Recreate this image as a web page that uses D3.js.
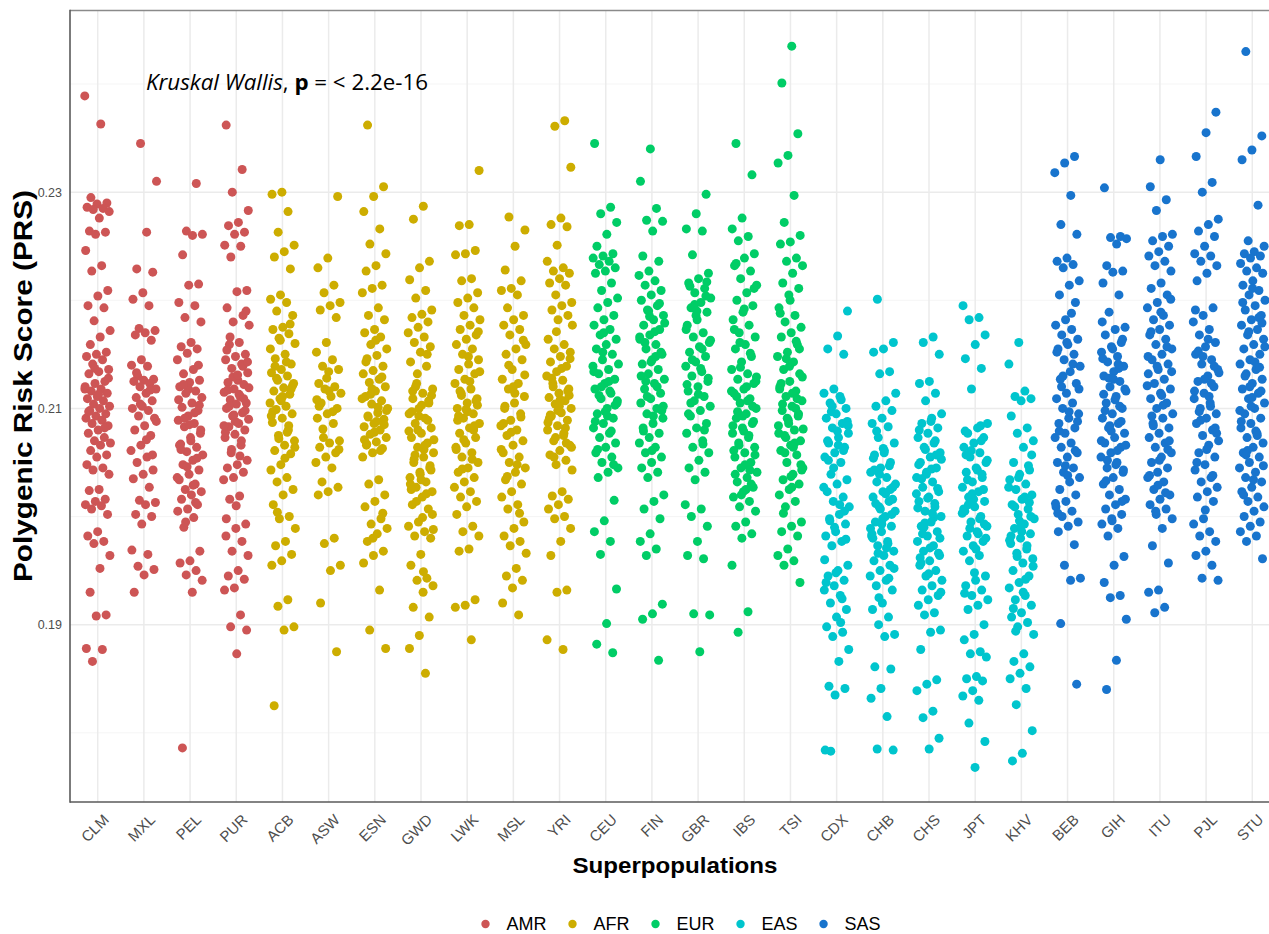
<!DOCTYPE html>
<html>
<head>
<meta charset="utf-8">
<script src="https://cdn.jsdelivr.net/npm/d3@7"></script>
<style>
  body { margin: 0; background: #fff; }
  svg { display: block; }
</style>
</head>
<body>
<div id="container"></div>
<script>
/* CONSTANTS AND GLOBALS */
const width = 1269;
const height = 934;
const panel = { left: 70, right: 1280, top: 10.5, bottom: 802 };
const FONT = "'Liberation Sans', Arial, sans-serif";

/* DATA */
const populations = ["CLM","MXL","PEL","PUR","ACB","ASW","ESN","GWD","LWK","MSL","YRI","CEU","FIN","GBR","IBS","TSI","CDX","CHB","CHS","JPT","KHV","BEB","GIH","ITU","PJL","STU"];
const superpopOf = ["AMR","AMR","AMR","AMR","AFR","AFR","AFR","AFR","AFR","AFR","AFR","EUR","EUR","EUR","EUR","EUR","EAS","EAS","EAS","EAS","EAS","SAS","SAS","SAS","SAS","SAS"];
const superpops = ["AMR","AFR","EUR","EAS","SAS"];
const superColors = ["#CD5555","#CDAD00","#00CD66","#00C5CD","#1874CD"];
const yTickValues = [0.19, 0.21, 0.23];
const yMinorValues = [0.18, 0.20, 0.22, 0.24];

const prsCLM = [0.2389,0.2363,0.2295,0.2290,0.2289,0.2286,0.2285,0.2284,0.2282,0.2276,0.2264,0.2263,0.2261,0.2246,0.2232,0.2227,0.2209,0.2204,0.2195,0.2193,0.2181,0.2172,0.2166,0.2159,0.2152,0.2150,0.2148,0.2145,0.2141,0.2136,0.2134,0.2132,0.2125,0.2123,0.2120,0.2118,0.2116,0.2114,0.2111,0.2109,0.2107,0.2104,0.2102,0.2100,0.2098,0.2095,0.2093,0.2091,0.2089,0.2086,0.2084,0.2080,0.2077,0.2073,0.2070,0.2068,0.2066,0.2061,0.2057,0.2055,0.2048,0.2045,0.2043,0.2039,0.2025,0.2024,0.2016,0.2014,0.2011,0.2010,0.2007,0.2002,0.1986,0.1982,0.1977,0.1975,0.1964,0.1952,0.1930,0.1909,0.1908,0.1878,0.1877,0.1866,0.2128,0.2113,0.2097,0.2082,0.2137,0.2118];
const prsMXL = [0.2345,0.2310,0.2263,0.2229,0.2226,0.2207,0.2201,0.2195,0.2174,0.2172,0.2170,0.2168,0.2163,0.2145,0.2140,0.2139,0.2130,0.2127,0.2126,0.2125,0.2123,0.2120,0.2118,0.2114,0.2110,0.2107,0.2102,0.2100,0.2098,0.2093,0.2091,0.2084,0.2080,0.2075,0.2066,0.2061,0.2055,0.2050,0.2043,0.2039,0.2035,0.2027,0.2015,0.2013,0.2011,0.2002,0.2000,0.1993,0.1969,0.1965,0.1954,0.1951,0.1946,0.1930,0.2117,0.2104,0.2088,0.2071,0.2133,0.2057];
const prsPEL = [0.2308,0.2264,0.2261,0.2260,0.2242,0.2215,0.2214,0.2198,0.2195,0.2184,0.2180,0.2161,0.2157,0.2155,0.2151,0.2145,0.2136,0.2132,0.2126,0.2124,0.2120,0.2116,0.2114,0.2110,0.2105,0.2101,0.2098,0.2093,0.2089,0.2086,0.2083,0.2077,0.2073,0.2067,0.2064,0.2060,0.2057,0.2052,0.2048,0.2043,0.2039,0.2034,0.2030,0.2025,0.2023,0.2020,0.2016,0.2011,0.2007,0.2005,0.1999,0.1990,0.1968,0.1959,0.1957,0.1950,0.1946,0.1941,0.1930,0.1786,0.2140,0.2118,0.2108,0.2096,0.2091,0.2080,0.2070,0.2062,0.2054,0.2046,0.2036,0.2029,0.2122,0.2103,0.2085,0.2066,0.2013,0.1995];
const prsPUR = [0.2362,0.2321,0.2300,0.2283,0.2272,0.2269,0.2263,0.2261,0.2251,0.2250,0.2240,0.2209,0.2208,0.2193,0.2186,0.2180,0.2177,0.2161,0.2159,0.2150,0.2148,0.2145,0.2141,0.2137,0.2133,0.2126,0.2124,0.2122,0.2118,0.2115,0.2111,0.2108,0.2105,0.2104,0.2100,0.2096,0.2093,0.2090,0.2086,0.2083,0.2080,0.2076,0.2073,0.2066,0.2059,0.2052,0.2048,0.2045,0.2041,0.2036,0.2034,0.2019,0.2016,0.1993,0.1989,0.1982,0.1977,0.1968,0.1964,0.1950,0.1945,0.1942,0.1934,0.1932,0.1909,0.1898,0.1895,0.1873,0.2154,0.2139,0.2129,0.2119,0.2113,0.2102,0.2098,0.2088,0.2078,0.2070,0.2062,0.2143,0.2131,0.2117,0.2109,0.2094,0.2084,0.2056,0.2166,0.2190,0.2010,0.1998];
const prsACB = [0.2300,0.2298,0.2282,0.2263,0.2251,0.2245,0.2240,0.2229,0.2205,0.2201,0.2198,0.2190,0.2186,0.2175,0.2173,0.2169,0.2165,0.2160,0.2150,0.2146,0.2141,0.2136,0.2133,0.2130,0.2126,0.2123,0.2119,0.2116,0.2113,0.2109,0.2105,0.2102,0.2099,0.2095,0.2091,0.2087,0.2080,0.2075,0.2070,0.2066,0.2061,0.2058,0.2048,0.2043,0.2036,0.2032,0.2025,0.2020,0.2011,0.2000,0.1998,0.1989,0.1977,0.1973,0.1965,0.1959,0.1955,0.1923,0.1917,0.1898,0.1895,0.1825,0.2178,0.2163,0.2155,0.2143,0.2128,0.2121,0.2111,0.2097,0.2084,0.2072,0.2064,0.2054,0.2139,0.2118,0.2107,0.2093,0.2078,0.2004];
const prsASW = [0.2296,0.2239,0.2230,0.2214,0.2207,0.2198,0.2195,0.2191,0.2184,0.2161,0.2152,0.2145,0.2139,0.2136,0.2134,0.2123,0.2120,0.2118,0.2114,0.2111,0.2105,0.2100,0.2095,0.2091,0.2086,0.2073,0.2070,0.2068,0.2064,0.2059,0.2055,0.2050,0.2045,0.2032,0.2027,0.2023,0.2020,0.1980,0.1975,0.1955,0.1950,0.1920,0.1875,0.2128,0.2108,0.2097,0.2081,0.2062,0.2116,0.2102];
const prsESN = [0.2362,0.2305,0.2296,0.2282,0.2266,0.2252,0.2243,0.2232,0.2227,0.2214,0.2211,0.2207,0.2193,0.2186,0.2182,0.2173,0.2170,0.2166,0.2159,0.2155,0.2149,0.2146,0.2139,0.2135,0.2132,0.2127,0.2124,0.2120,0.2116,0.2111,0.2107,0.2104,0.2100,0.2096,0.2093,0.2090,0.2086,0.2083,0.2080,0.2076,0.2073,0.2069,0.2066,0.2063,0.2059,0.2055,0.2034,0.2030,0.2020,0.2014,0.2009,0.1998,0.1993,0.1989,0.1984,0.1977,0.1968,0.1964,0.1957,0.1932,0.1895,0.1878,0.2163,0.2143,0.2129,0.2118,0.2109,0.2101,0.2092,0.2085,0.2078,0.2071,0.2061,0.2113,0.2098,0.2088,0.2067,0.2003,0.1980];
const prsGWD = [0.2287,0.2275,0.2236,0.2230,0.2219,0.2209,0.2202,0.2191,0.2187,0.2184,0.2180,0.2175,0.2170,0.2166,0.2161,0.2157,0.2152,0.2143,0.2139,0.2123,0.2118,0.2114,0.2109,0.2105,0.2100,0.2095,0.2091,0.2086,0.2082,0.2077,0.2073,0.2068,0.2064,0.2059,0.2055,0.2050,0.2045,0.2041,0.2036,0.2032,0.2027,0.2023,0.2018,0.2011,0.2007,0.1995,0.1991,0.1986,0.1982,0.1980,0.1965,0.1955,0.1943,0.1941,0.1936,0.1930,0.1916,0.1907,0.1890,0.1878,0.1855,0.2120,0.2112,0.2103,0.2097,0.2089,0.2080,0.2071,0.2062,0.2053,0.2047,0.2039,0.2030,0.2021,0.2014,0.2002,0.1999,0.2116,0.2107,0.2093,0.2079,0.2066,0.2057,0.2043,0.2034,0.2025,0.2150,0.2132,0.1988,0.1949];
const prsLWK = [0.2320,0.2270,0.2269,0.2246,0.2243,0.2242,0.2220,0.2218,0.2207,0.2202,0.2198,0.2193,0.2186,0.2182,0.2177,0.2173,0.2168,0.2164,0.2159,0.2155,0.2150,0.2145,0.2141,0.2136,0.2132,0.2127,0.2123,0.2118,0.2114,0.2109,0.2105,0.2100,0.2095,0.2091,0.2086,0.2082,0.2077,0.2073,0.2068,0.2064,0.2059,0.2055,0.2050,0.2045,0.2041,0.2036,0.2032,0.2027,0.2023,0.2018,0.2014,0.2009,0.2002,0.1991,0.1986,0.1982,0.1970,0.1968,0.1923,0.1918,0.1916,0.1886,0.2112,0.2103,0.2097,0.2089,0.2080,0.2071,0.2134,0.2125,0.2116,0.2107,0.2099,0.2062,0.2053,0.2044,0.2171,0.2148,0.2093,0.2084];
const prsMSL = [0.2277,0.2265,0.2250,0.2228,0.2218,0.2211,0.2209,0.2205,0.2193,0.2186,0.2182,0.2177,0.2173,0.2168,0.2159,0.2155,0.2150,0.2145,0.2136,0.2127,0.2123,0.2118,0.2111,0.2105,0.2100,0.2095,0.2089,0.2084,0.2080,0.2075,0.2070,0.2066,0.2059,0.2055,0.2050,0.2045,0.2041,0.2034,0.2030,0.2023,0.2018,0.2011,0.2007,0.1995,0.1989,0.1982,0.1977,0.1973,0.1966,0.1952,0.1945,0.1941,0.1934,0.1920,0.1909,0.2140,0.2131,0.2114,0.2102,0.2092,0.2078,0.2062,0.2048,0.2037,0.2163,0.2120,0.2086,0.2003];
const prsYRI = [0.2366,0.2361,0.2323,0.2276,0.2270,0.2268,0.2251,0.2236,0.2230,0.2227,0.2225,0.2220,0.2216,0.2214,0.2205,0.2198,0.2195,0.2191,0.2186,0.2182,0.2164,0.2159,0.2155,0.2152,0.2148,0.2143,0.2139,0.2134,0.2130,0.2126,0.2123,0.2118,0.2114,0.2110,0.2107,0.2104,0.2100,0.2096,0.2093,0.2089,0.2084,0.2080,0.2075,0.2070,0.2066,0.2061,0.2057,0.2052,0.2048,0.2043,0.2023,0.2019,0.2016,0.2011,0.2007,0.2000,0.1998,0.1989,0.1977,0.1964,0.1932,0.1930,0.1886,0.1877,0.2120,0.2112,0.2102,0.2091,0.2082,0.2073,0.2064,0.2137,0.2128,0.2116,0.2098,0.2087,0.2077,0.2055,0.2146,0.2108,0.2094,0.2068,0.2171,0.2177];
const prsCEU = [0.2345,0.2286,0.2280,0.2272,0.2261,0.2250,0.2243,0.2241,0.2239,0.2236,0.2233,0.2230,0.2227,0.2225,0.2216,0.2209,0.2202,0.2198,0.2193,0.2186,0.2182,0.2177,0.2173,0.2168,0.2164,0.2159,0.2155,0.2150,0.2145,0.2141,0.2136,0.2132,0.2127,0.2123,0.2118,0.2114,0.2109,0.2105,0.2100,0.2095,0.2091,0.2086,0.2082,0.2077,0.2073,0.2068,0.2064,0.2059,0.2055,0.2050,0.2045,0.2041,0.2036,0.2015,0.1996,0.1986,0.1977,0.1965,0.1933,0.1901,0.1882,0.1874,0.2152,0.2139,0.2125,0.2112,0.2103,0.2097,0.2088,0.2079,0.2120,0.2107,0.2093,0.2062,0.2048,0.2170,0.2134,0.2116];
const prsFIN = [0.2340,0.2310,0.2285,0.2274,0.2273,0.2264,0.2241,0.2236,0.2227,0.2223,0.2218,0.2214,0.2209,0.2205,0.2200,0.2195,0.2191,0.2186,0.2182,0.2177,0.2173,0.2168,0.2164,0.2159,0.2155,0.2150,0.2145,0.2141,0.2136,0.2132,0.2127,0.2123,0.2118,0.2114,0.2109,0.2105,0.2100,0.2095,0.2091,0.2086,0.2082,0.2077,0.2073,0.2068,0.2064,0.2059,0.2055,0.2050,0.2045,0.2041,0.2036,0.2020,0.2014,0.2007,0.1998,0.1984,0.1977,0.1970,0.1964,0.1919,0.1910,0.1905,0.1867,0.2190,0.2179,0.2171,0.2161,0.2152,0.2143,0.2130,0.2120,0.2111,0.2102,0.2093,0.2079,0.2197,0.2185,0.2166,0.2148,0.2125,0.2098,0.2061];
const prsGBR = [0.2298,0.2280,0.2266,0.2264,0.2242,0.2225,0.2220,0.2216,0.2211,0.2207,0.2202,0.2198,0.2193,0.2189,0.2182,0.2177,0.2170,0.2166,0.2161,0.2157,0.2152,0.2148,0.2143,0.2139,0.2134,0.2130,0.2125,0.2120,0.2116,0.2111,0.2107,0.2102,0.2098,0.2093,0.2086,0.2082,0.2077,0.2070,0.2064,0.2059,0.2052,0.2045,0.2041,0.2034,0.2011,0.2007,0.2000,0.1991,0.1977,0.1964,0.1961,0.1910,0.1909,0.1875,0.2213,0.2204,0.2186,0.2173,0.2155,0.2145,0.2128,0.2113,0.2095,0.2080,0.2196,0.2163,0.2137,0.2105,0.2217,0.2190,0.2122,0.2067];
const prsIBS = [0.2345,0.2316,0.2276,0.2266,0.2259,0.2255,0.2243,0.2239,0.2232,0.2227,0.2220,0.2214,0.2207,0.2200,0.2195,0.2189,0.2182,0.2177,0.2170,0.2166,0.2159,0.2155,0.2148,0.2143,0.2136,0.2132,0.2127,0.2123,0.2118,0.2114,0.2109,0.2105,0.2100,0.2095,0.2091,0.2086,0.2082,0.2077,0.2073,0.2068,0.2064,0.2059,0.2055,0.2050,0.2045,0.2041,0.2036,0.2032,0.2027,0.2023,0.2018,0.2014,0.2009,0.2005,0.1995,0.1991,0.1984,0.1980,0.1955,0.1912,0.1893,0.2211,0.2192,0.2173,0.2151,0.2138,0.2129,0.2120,0.2111,0.2102,0.2093,0.2084,0.2075,0.2066,0.2057,0.2048,0.2039,0.2030,0.2020,0.2116,0.2107,0.2097,0.2088,0.2079,0.2061,0.2043,0.2161,0.2125,0.2025,0.2234];
const prsTSI = [0.2435,0.2401,0.2354,0.2334,0.2327,0.2297,0.2272,0.2260,0.2254,0.2252,0.2239,0.2236,0.2232,0.2225,0.2216,0.2211,0.2205,0.2193,0.2186,0.2180,0.2175,0.2170,0.2166,0.2159,0.2152,0.2148,0.2143,0.2136,0.2132,0.2125,0.2120,0.2116,0.2111,0.2107,0.2102,0.2098,0.2093,0.2089,0.2084,0.2080,0.2075,0.2070,0.2066,0.2061,0.2057,0.2050,0.2045,0.2039,0.2034,0.2030,0.2025,0.2020,0.2014,0.2009,0.1995,0.1991,0.1986,0.1982,0.1970,0.1964,0.1959,0.1955,0.1939,0.2200,0.2188,0.2162,0.2146,0.2129,0.2114,0.2104,0.2095,0.2086,0.2077,0.2068,0.2059,0.2048,0.2037,0.2123,0.2109,0.2091,0.2081,0.2064,0.2003,0.2155,0.2139,0.2118,0.2100,0.2073,0.2043,0.2027];
const prsCDX = [0.2190,0.2167,0.2155,0.2150,0.2118,0.2114,0.2111,0.2105,0.2100,0.2095,0.2091,0.2086,0.2082,0.2077,0.2073,0.2068,0.2064,0.2059,0.2055,0.2050,0.2039,0.2034,0.2030,0.2023,0.2018,0.2014,0.2009,0.2002,0.1998,0.1993,0.1986,0.1982,0.1977,0.1973,0.1955,0.1950,0.1945,0.1941,0.1936,0.1932,0.1927,0.1920,0.1914,0.1907,0.1898,0.1893,0.1889,0.1877,0.1866,0.1843,0.1841,0.1835,0.1784,0.2108,0.2097,0.2088,0.2079,0.2070,0.2061,0.2045,0.2027,0.2011,0.1996,0.1979,0.1948,0.1939,0.1924,0.2102,0.2084,0.2066,0.2052,0.2005,0.1990,0.1960,0.1902,0.1783];
const prsCHB = [0.2201,0.2161,0.2155,0.2152,0.2134,0.2132,0.2114,0.2107,0.2102,0.2098,0.2091,0.2086,0.2083,0.2073,0.2068,0.2061,0.2057,0.2050,0.2045,0.2041,0.2036,0.2032,0.2027,0.2023,0.2018,0.2014,0.2009,0.2005,0.2000,0.1995,0.1991,0.1986,0.1982,0.1977,0.1973,0.1968,0.1964,0.1959,0.1955,0.1950,0.1945,0.1941,0.1936,0.1932,0.1920,0.1914,0.1907,0.1900,0.1891,0.1889,0.1861,0.1859,0.1841,0.1832,0.1815,0.1785,0.1784,0.2063,0.2054,0.2047,0.2039,0.2030,0.2021,0.2012,0.2002,0.1993,0.1984,0.1975,0.1966,0.1952,0.2059,0.2043,0.2025,0.2007,0.1989,0.1971,0.2079,0.2016,0.1998,0.1980,0.1943,0.1925];
const prsCHS = [0.2166,0.2161,0.2150,0.2125,0.2123,0.2114,0.2107,0.2095,0.2091,0.2086,0.2082,0.2077,0.2073,0.2068,0.2064,0.2059,0.2055,0.2050,0.2045,0.2041,0.2036,0.2032,0.2027,0.2023,0.2018,0.2014,0.2009,0.2005,0.2000,0.1995,0.1991,0.1986,0.1982,0.1977,0.1973,0.1968,0.1964,0.1959,0.1955,0.1950,0.1945,0.1941,0.1936,0.1932,0.1927,0.1923,0.1918,0.1911,0.1909,0.1895,0.1893,0.1877,0.1849,0.1845,0.1839,0.1820,0.1814,0.1795,0.1785,0.2080,0.2070,0.2062,0.2053,0.2044,0.2035,0.2026,0.2017,0.2008,0.1999,0.1990,0.1980,0.1971,0.1962,0.2057,0.2039,0.2021,0.2003,0.1984,0.1966,0.1947,0.2048,0.2012,0.1994,0.1930,0.2088,0.1957];
const prsJPT = [0.2195,0.2184,0.2182,0.2168,0.2159,0.2146,0.2137,0.2118,0.2086,0.2082,0.2077,0.2073,0.2068,0.2064,0.2059,0.2055,0.2050,0.2045,0.2041,0.2036,0.2032,0.2027,0.2023,0.2018,0.2014,0.2009,0.2005,0.2000,0.1995,0.1991,0.1986,0.1982,0.1977,0.1973,0.1968,0.1964,0.1959,0.1945,0.1941,0.1936,0.1932,0.1927,0.1923,0.1918,0.1914,0.1900,0.1891,0.1886,0.1875,0.1873,0.1870,0.1852,0.1850,0.1848,0.1839,0.1834,0.1830,0.1809,0.1792,0.1768,0.2079,0.2070,0.2061,0.2052,0.2043,0.2034,0.2025,0.2016,0.2007,0.1998,0.1989,0.1980,0.1970,0.2057,0.2039,0.2021,0.2003,0.1984,0.2011,0.1993,0.1948,0.1929,0.2084];
const prsKHV = [0.2161,0.2141,0.2116,0.2111,0.2109,0.2107,0.2093,0.2082,0.2077,0.2070,0.2064,0.2050,0.2043,0.2039,0.2034,0.2030,0.2025,0.2020,0.2016,0.2011,0.2007,0.2002,0.1998,0.1993,0.1989,0.1984,0.1980,0.1975,0.1970,0.1966,0.1961,0.1957,0.1950,0.1945,0.1939,0.1934,0.1927,0.1923,0.1918,0.1911,0.1907,0.1902,0.1898,0.1891,0.1873,0.1866,0.1861,0.1855,0.1850,0.1841,0.1826,0.1802,0.1781,0.1774,0.2047,0.2036,0.2027,0.2018,0.2009,0.2000,0.1991,0.1982,0.1973,0.1963,0.1954,0.1930,0.1915,0.2013,0.1996,0.1978,0.1942,0.1894,0.2057,0.1986];
const prsBEB = [0.2333,0.2327,0.2318,0.2297,0.2270,0.2261,0.2239,0.2236,0.2233,0.2230,0.2218,0.2214,0.2205,0.2198,0.2182,0.2177,0.2173,0.2168,0.2164,0.2159,0.2155,0.2150,0.2145,0.2139,0.2134,0.2127,0.2123,0.2114,0.2109,0.2105,0.2100,0.2095,0.2091,0.2086,0.2082,0.2077,0.2073,0.2068,0.2064,0.2059,0.2055,0.2050,0.2045,0.2041,0.2036,0.2032,0.2025,0.2020,0.2014,0.2009,0.2005,0.2000,0.1995,0.1991,0.1986,0.1974,0.1955,0.1943,0.1941,0.1901,0.1845,0.2161,0.2152,0.2141,0.2130,0.2118,0.2097,0.2079,0.2061,0.2047,0.2012,0.2188,0.2120,0.2088,0.2038,0.2003];
const prsGIH = [0.2304,0.2259,0.2258,0.2257,0.2252,0.2232,0.2227,0.2226,0.2216,0.2205,0.2189,0.2175,0.2173,0.2168,0.2161,0.2157,0.2152,0.2148,0.2143,0.2139,0.2134,0.2130,0.2125,0.2120,0.2116,0.2111,0.2105,0.2100,0.2095,0.2091,0.2086,0.2082,0.2077,0.2073,0.2068,0.2064,0.2059,0.2055,0.2050,0.2045,0.2041,0.2036,0.2030,0.2025,0.2020,0.2016,0.2011,0.2007,0.2002,0.1998,0.1993,0.1989,0.1982,0.1963,0.1955,0.1939,0.1927,0.1925,0.1905,0.1867,0.1840,0.2164,0.2155,0.2146,0.2137,0.2128,0.2118,0.2108,0.2098,0.2088,0.2079,0.2070,0.2061,0.2052,0.2043,0.2127,0.2113,0.2102,0.2084,0.2066,0.2048,0.2033,0.2014,0.1996,0.2180,0.2141];
const prsITU = [0.2330,0.2305,0.2293,0.2283,0.2261,0.2259,0.2255,0.2250,0.2245,0.2241,0.2236,0.2232,0.2227,0.2216,0.2211,0.2205,0.2198,0.2193,0.2186,0.2182,0.2177,0.2173,0.2168,0.2164,0.2159,0.2155,0.2150,0.2145,0.2141,0.2136,0.2132,0.2127,0.2123,0.2118,0.2114,0.2109,0.2105,0.2100,0.2095,0.2091,0.2086,0.2082,0.2077,0.2073,0.2068,0.2064,0.2059,0.2055,0.2050,0.2045,0.2041,0.2036,0.2032,0.2025,0.2020,0.2016,0.2011,0.2007,0.2002,0.1998,0.1989,0.1973,0.1957,0.1932,0.1930,0.1916,0.1911,0.2201,0.2189,0.2171,0.2157,0.2139,0.2121,0.2103,0.2084,0.2070,0.2052,0.2038,0.2022,0.2005,0.2134,0.2112,0.2093,0.2062,0.2029,0.2148];
const prsPJL = [0.2374,0.2355,0.2333,0.2309,0.2300,0.2275,0.2270,0.2264,0.2259,0.2250,0.2243,0.2241,0.2236,0.2232,0.2225,0.2218,0.2193,0.2186,0.2180,0.2173,0.2168,0.2161,0.2157,0.2150,0.2145,0.2141,0.2136,0.2130,0.2125,0.2120,0.2114,0.2109,0.2105,0.2100,0.2095,0.2091,0.2086,0.2080,0.2075,0.2070,0.2066,0.2059,0.2055,0.2048,0.2043,0.2036,0.2032,0.2027,0.2023,0.2018,0.2014,0.1998,0.1993,0.1986,0.1982,0.1977,0.1968,0.1964,0.1955,0.1943,0.1941,0.2164,0.2153,0.2139,0.2127,0.2116,0.2102,0.2089,0.2077,0.2062,0.2050,0.2038,0.2148,0.2133,0.2111,0.2097,0.2082,0.2006,0.2191,0.2123];
const prsSTU = [0.2430,0.2352,0.2339,0.2330,0.2288,0.2255,0.2250,0.2245,0.2243,0.2241,0.2239,0.2234,0.2230,0.2227,0.2225,0.2218,0.2214,0.2209,0.2205,0.2200,0.2195,0.2191,0.2186,0.2182,0.2177,0.2173,0.2168,0.2164,0.2159,0.2155,0.2150,0.2145,0.2141,0.2136,0.2132,0.2127,0.2123,0.2118,0.2114,0.2109,0.2105,0.2100,0.2095,0.2091,0.2086,0.2082,0.2077,0.2073,0.2068,0.2064,0.2059,0.2055,0.2050,0.2045,0.2041,0.2036,0.2032,0.2027,0.2023,0.2018,0.2014,0.2009,0.2005,0.2000,0.1995,0.1991,0.1986,0.1982,0.1977,0.1961,0.2211,0.2198,0.2184,0.2171,0.2157,0.2143,0.2130,0.2116,0.2102,0.2088,0.2075,0.2061,0.2047,0.2034,0.2020,0.2138,0.2120,0.2098,0.2079,0.2057,0.2179,0.2110];

const prsByPop = [prsCLM, prsMXL, prsPEL, prsPUR, prsACB, prsASW, prsESN, prsGWD, prsLWK, prsMSL, prsYRI,
  prsCEU, prsFIN, prsGBR, prsIBS, prsTSI, prsCDX, prsCHB, prsCHS, prsJPT, prsKHV, prsBEB, prsGIH, prsITU, prsPJL, prsSTU];

// one row per sample; k is the jitter position inside the column (golden-ratio sequence)
const samples = [];
prsByPop.forEach((vals, gi) => {
  vals.forEach((v, i) => {
    samples.push({ pop: populations[gi], superpop: superpopOf[gi], prs: v, k: (i * 0.618034 + gi * 0.37) % 1 });
  });
});

/* SCALES */
const xScale = d3.scalePoint()
  .domain(populations)
  .range([panel.left, panel.right])
  .padding(0.6);

const yScale = d3.scaleLinear()
  .domain([0.1736, 0.2468])
  .range([panel.bottom, panel.top]);

const colorScale = d3.scaleOrdinal()
  .domain(superpops)
  .range(superColors);

const jitter = xScale.step() * 0.28;

/* HTML ELEMENTS */
const svg = d3.select("#container")
  .append("svg")
  .attr("width", width)
  .attr("height", height)
  .style("font-family", FONT);

svg.append("rect").attr("width", width).attr("height", height).attr("fill", "#fff");

// grid
const grid = svg.append("g").attr("class", "grid");
grid.selectAll("line.minor")
  .data(yMinorValues)
  .join("line")
  .attr("class", "minor")
  .attr("x1", panel.left).attr("x2", panel.right)
  .attr("y1", d => yScale(d)).attr("y2", d => yScale(d))
  .attr("stroke", "#f2f2f2").attr("stroke-width", 0.8);
grid.selectAll("line.major")
  .data(yTickValues)
  .join("line")
  .attr("class", "major")
  .attr("x1", panel.left).attr("x2", panel.right)
  .attr("y1", d => yScale(d)).attr("y2", d => yScale(d))
  .attr("stroke", "#ebebeb").attr("stroke-width", 1.5);
grid.selectAll("line.vert")
  .data(populations)
  .join("line")
  .attr("class", "vert")
  .attr("x1", d => xScale(d)).attr("x2", d => xScale(d))
  .attr("y1", panel.top).attr("y2", panel.bottom)
  .attr("stroke", "#ebebeb").attr("stroke-width", 1.5);

// points
svg.append("g")
  .selectAll("circle")
  .data(samples)
  .join("circle")
  .attr("cx", d => xScale(d.pop) + (d.k * 2 - 1) * jitter)
  .attr("cy", d => yScale(d.prs))
  .attr("r", 4.5)
  .attr("fill", d => colorScale(d.superpop));

// panel frame
svg.append("line")
  .attr("x1", panel.left).attr("x2", panel.right)
  .attr("y1", panel.top).attr("y2", panel.top)
  .attr("stroke", "#8a8a8a").attr("stroke-width", 1.6);
svg.append("line")
  .attr("x1", panel.left).attr("x2", panel.left)
  .attr("y1", panel.top - 0.8).attr("y2", panel.bottom + 0.8)
  .attr("stroke", "#5a5a5a").attr("stroke-width", 1.6);
svg.append("line")
  .attr("x1", panel.left).attr("x2", panel.right)
  .attr("y1", panel.bottom).attr("y2", panel.bottom)
  .attr("stroke", "#5a5a5a").attr("stroke-width", 1.6);

// y-axis
const yAxis = d3.axisLeft(yScale).tickValues(yTickValues).tickSize(0).tickPadding(8).tickFormat(d3.format(".2f"));
svg.append("g")
  .attr("class", "y-axis")
  .attr("transform", `translate(${panel.left},0)`)
  .call(yAxis)
  .call(g => g.select(".domain").remove())
  .selectAll("text")
  .style("font-family", FONT)
  .style("font-size", "12.5px")
  .style("fill", "#4d4d4d");

// x-axis
const xAxis = d3.axisBottom(xScale).tickSize(0);
svg.append("g")
  .attr("class", "x-axis")
  .attr("transform", `translate(0,${panel.bottom})`)
  .call(xAxis)
  .call(g => g.select(".domain").remove())
  .selectAll("text")
  .style("font-family", FONT)
  .style("font-size", "15px")
  .style("fill", "#4d4d4d")
  .attr("text-anchor", "end")
  .attr("y", 0)
  .attr("dy", "0.72em")
  .attr("transform", "translate(4,11) rotate(-45)");

// y-axis title
svg.append("text")
  .attr("transform", `translate(31.5,${(190 + 582) / 2}) rotate(-90)`)
  .attr("text-anchor", "middle")
  .attr("font-weight", "bold")
  .attr("font-size", 26)
  .attr("textLength", 392)
  .attr("lengthAdjust", "spacingAndGlyphs")
  .attr("fill", "#000")
  .text("Polygenic Risk Score (PRS)");

// x-axis title
svg.append("text")
  .attr("x", (panel.left + panel.right) / 2)
  .attr("y", 873)
  .attr("text-anchor", "middle")
  .attr("font-weight", "bold")
  .attr("font-size", 22)
  .attr("textLength", 205)
  .attr("lengthAdjust", "spacingAndGlyphs")
  .attr("fill", "#000")
  .text("Superpopulations");

// test annotation
const note = svg.append("text")
  .attr("x", 146)
  .attr("y", 90)
  .attr("font-family", "'Open Sans', 'Liberation Sans', sans-serif")
  .attr("font-size", 21)
  .attr("textLength", 282)
  .attr("lengthAdjust", "spacingAndGlyphs")
  .attr("fill", "#000");
note.append("tspan").attr("font-style", "italic").text("Kruskal Wallis");
note.append("tspan").text(", ");
note.append("tspan").attr("font-weight", "bold").text("p");
note.append("tspan").text(" = < 2.2e-16");

// legend
const legend = svg.append("g").attr("class", "legend");
let lx = 485.5;
superpops.forEach((sp, i) => {
  legend.append("circle")
    .attr("cx", lx).attr("cy", 924)
    .attr("r", 4.2)
    .attr("fill", superColors[i]);
  const t = legend.append("text")
    .attr("x", lx + 21).attr("y", 930)
    .attr("font-size", 18)
    .attr("fill", "#000")
    .text(sp);
  lx += 21 + t.node().getComputedTextLength() + 26;
});
</script>
</body>
</html>
